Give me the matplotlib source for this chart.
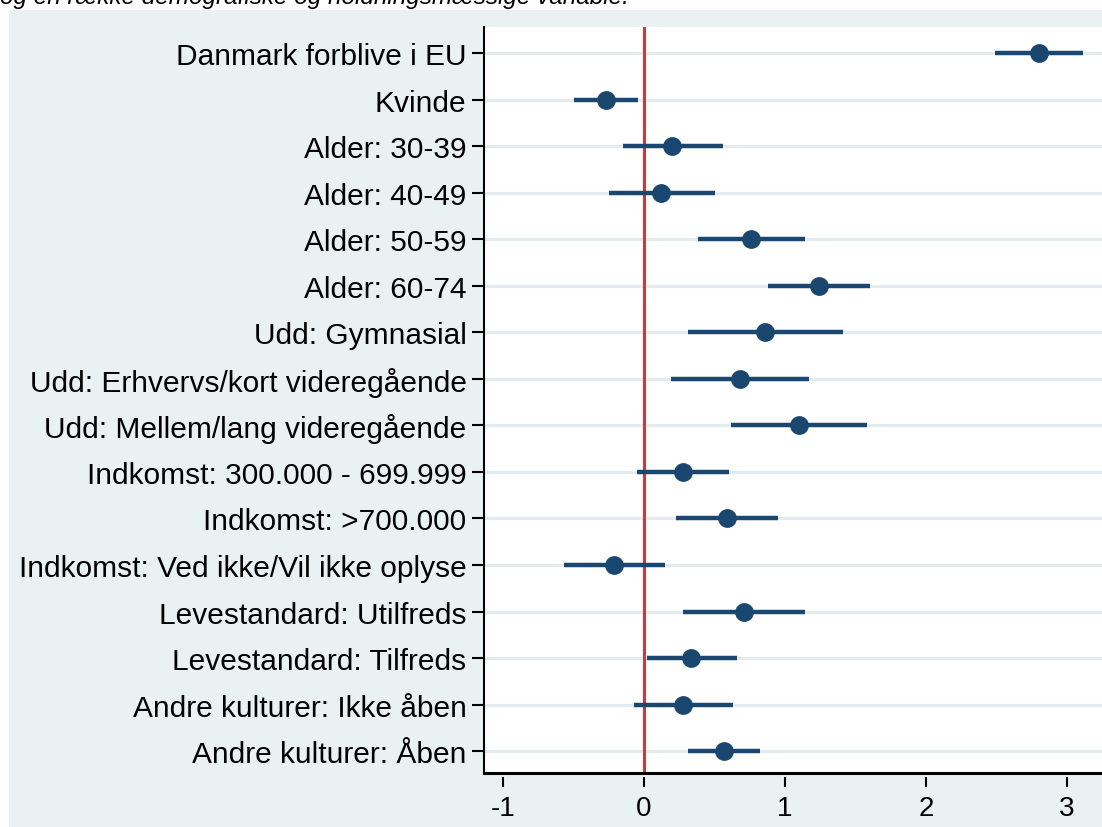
# Coefficient plot (Stata-style) for remain/leave model
import matplotlib.pyplot as plt
from matplotlib.patches import Rectangle

labels = [
    "Danmark forblive i EU",
    "Kvinde",
    "Alder: 30-39",
    "Alder: 40-49",
    "Alder: 50-59",
    "Alder: 60-74",
    "Udd: Gymnasial",
    "Udd: Erhvervs/kort videregående",
    "Udd: Mellem/lang videregående",
    "Indkomst: 300.000 - 699.999",
    "Indkomst: >700.000",
    "Indkomst: Ved ikke/Vil ikke oplyse",
    "Levestandard: Utilfreds",
    "Levestandard: Tilfreds",
    "Andre kulturer: Ikke åben",
    "Andre kulturer: Åben",
]
coef = [2.80, -0.27, 0.20, 0.12, 0.76, 1.24, 0.86, 0.68, 1.10, 0.28, 0.59, -0.21, 0.71, 0.33, 0.28, 0.57]
ci_low = [2.49, -0.50, -0.15, -0.25, 0.38, 0.88, 0.31, 0.19, 0.62, -0.05, 0.23, -0.57, 0.28, 0.02, -0.07, 0.31]
ci_high = [3.11, -0.04, 0.56, 0.50, 1.14, 1.60, 1.41, 1.17, 1.58, 0.60, 0.95, 0.15, 1.14, 0.66, 0.63, 0.82]
xticks = [-1, 0, 1, 2, 3]
caption = "og en række demografiske og holdningsmæssige variable."

NAVY = "#1A476F"
BG = "#EAF1F3"
GRID = "#E3EBEE"
RED = "#C93A3A"

plt.rcParams["font.family"] = ["Liberation Sans", "DejaVu Sans"]

W, H = 1102, 828
fig = plt.figure(figsize=(W / 100, H / 100), dpi=100, facecolor="white")
fig.patches.append(Rectangle((9 / W, 0), 1, 1 - 11 / H, transform=fig.transFigure,
                             facecolor=BG, edgecolor="none", zorder=0))
fig.text(0.0, 1 - 4 / H, caption, fontsize=17.5, style="italic", va="baseline", ha="left")

ax = fig.add_axes([484 / W, 54 / H, 1 - 484 / W, (828 - 28 - 54) / H])
ax.set_zorder(2)
ax.set_facecolor("white")

# spine offset first: it resets the tick objects
for s in ["top", "right"]:
    ax.spines[s].set_visible(False)
ax.spines["left"].set_linewidth(1.5)
ax.spines["bottom"].set_position(("outward", 3))
ax.spines["bottom"].set_visible(False)

y = list(range(len(labels)))
for yi in y:
    ax.axhline(yi, color=GRID, lw=2.3, zorder=1)
ax.axvline(0, color=RED, lw=2.2, zorder=2)
ax.hlines(y, ci_low, ci_high, color=NAVY, lw=3.2, zorder=3)
ax.plot(coef, y, "o", color=NAVY, markersize=12.5, zorder=4)
ax.plot([0, 1], [0, 0], transform=ax.transAxes, color="black", lw=2.2, clip_on=False, zorder=5)

ax.set_xlim((484 - 644) / 141, (1102 - 644) / 141)
ax.set_ylim(len(labels) - 1 + 0.47, -0.56)
ax.set_yticks(y)
ax.set_yticklabels(labels)
ax.set_xticks(xticks)
ax.set_xticklabels([str(t) for t in xticks])

ax.tick_params(axis="y", length=8.6, width=1.5, pad=4, labelsize=21.5)
ax.tick_params(axis="x", length=7.2, width=1.5, pad=6, labelsize=20)

fig.savefig("out.png", dpi=100, facecolor="white")
